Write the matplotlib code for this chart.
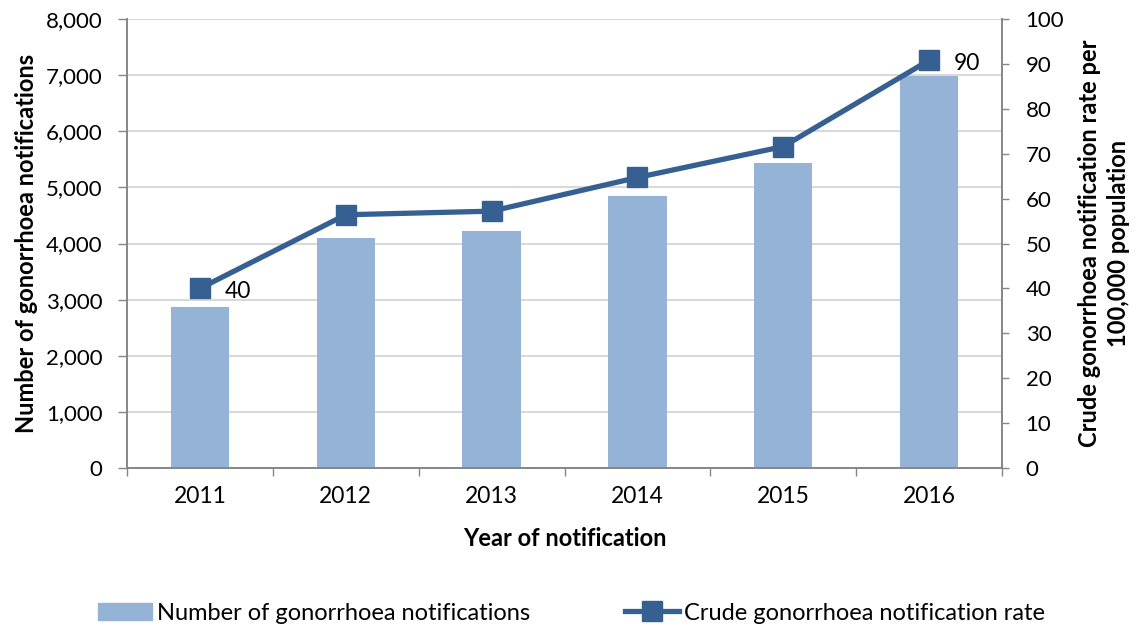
import numpy as np
import matplotlib.pyplot as plt

plt.rcParams['font.family'] = ['Lato', 'DejaVu Sans']

# Data
years = ['2011', '2012', '2013', '2014', '2015', '2016']
notifications = [2870, 4100, 4220, 4850, 5440, 6980]
rates = [40, 56.4, 57.2, 64.7, 71.6, 90.8]
rate_labels = {0: '40', 5: '90'}

bar_color = '#95b3d7'
line_color = '#366092'
axis_grey = '#868686'

fig = plt.figure(figsize=(11.43, 6.29), dpi=100)
ax = fig.add_axes([127 / 1143, 1 - 468 / 629, 875 / 1143, 449 / 629])
ax2 = ax.twinx()

x = np.arange(len(years))
ax.bar(x, notifications, width=0.4, color=bar_color, zorder=2)
ax.set_xlim(-0.5, len(years) - 0.5)
ax.set_ylim(0, 8000)
ax.set_yticks(range(0, 8001, 1000))
ax.set_yticklabels([f'{v:,}' for v in range(0, 8001, 1000)])
ax.yaxis.grid(True, color='#d9d9d9', linewidth=1.5, zorder=0)
ax.set_axisbelow(True)

# x ticks between categories, labels at centres
ax.set_xticks(np.arange(-0.5, len(years), 1))
ax.set_xticklabels([])
ax.set_xticks(x, minor=True)
ax.set_xticklabels(years, minor=True)
ax.tick_params(axis='x', which='minor', length=0, pad=13, labelsize=16.5)
ax.tick_params(axis='x', which='major', length=6, color=axis_grey, width=1)
ax.tick_params(axis='y', length=6.5, color=axis_grey, width=1, labelsize=16, pad=11)

ax2.plot(x, rates, color=line_color, linewidth=3.8, marker='s', markersize=14,
         zorder=3)
ax2.set_ylim(0, 100)
ax2.set_yticks(range(0, 101, 10))
ax2.tick_params(axis='y', length=5, color=axis_grey, width=1, labelsize=16, pad=12)
for i, lab in rate_labels.items():
    ax2.annotate(lab, (x[i], rates[i]), xytext=(18, -2), textcoords='offset points',
                 va='center', ha='left', fontsize=16.5)

for a in (ax, ax2):
    a.spines['top'].set_visible(False)
    for side in ('left', 'right', 'bottom'):
        a.spines[side].set_color(axis_grey)
        a.spines[side].set_linewidth(1.2)

ax.set_ylabel('Number of gonorrhoea notifications', fontsize=17, fontweight='bold',
              labelpad=6)
ax2.set_ylabel('Crude gonorrhoea notification rate per\n100,000 population',
               fontsize=17, fontweight='bold', labelpad=10, linespacing=1.3)
ax.set_xlabel('Year of notification', fontsize=17, fontweight='bold', labelpad=14)

# Legend
h1 = plt.Rectangle((0, 0), 1, 1, color=bar_color)
h2, = ax.plot([], [], color=line_color, linewidth=3.8, marker='s', markersize=14)
fig.legend([h1, h2], ['Number of gonorrhoea notifications',
                      'Crude gonorrhoea notification rate'],
           loc='center', bbox_to_anchor=(0.5, 1 - 613 / 629), ncol=2, frameon=False,
           fontsize=17, columnspacing=4, handlelength=2.3, handletextpad=0.2)

fig.savefig('out.png', dpi=100)
